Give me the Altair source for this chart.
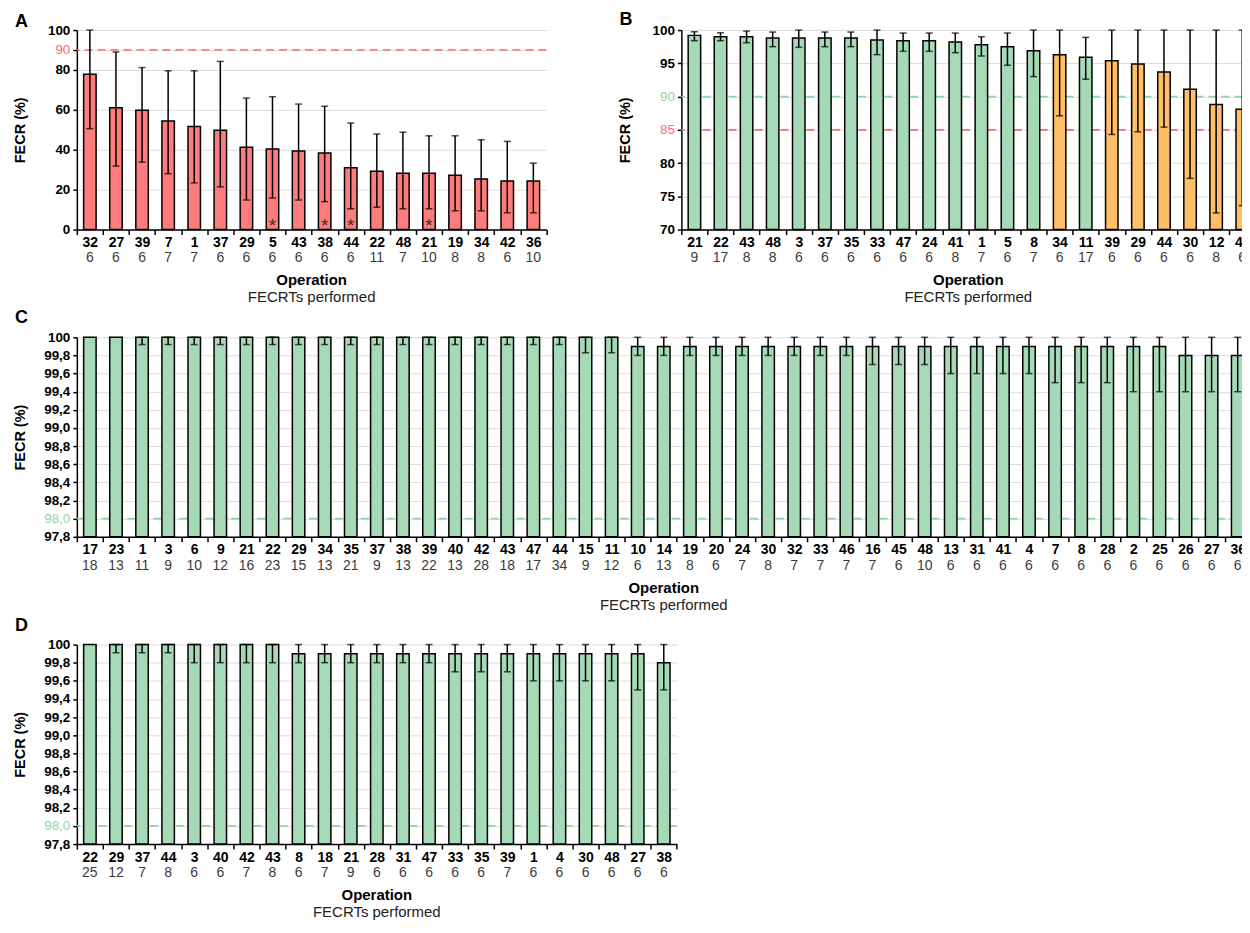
import altair as alt
import pandas as pd

FONT = "Liberation Sans"
STEP = 26.15
H = 200

RED_BAR = "#FF7C7C"
GREEN = "#A6D9B5"
ORANGE = "#FFBE68"
RED_LINE = "#FF6B6B"
GREEN_LINE = "#93D4A4"

# ---------------- Panel A ----------------
a_ops = ["32", "27", "39", "7", "1", "37", "29", "5", "43", "38", "44", "22", "48", "21", "19", "34", "42", "36"]
a_n = [6, 6, 6, 7, 7, 6, 6, 6, 6, 6, 6, 11, 7, 10, 8, 8, 6, 10]
a_mean = [77.8, 61, 59.8, 54.4, 51.6, 49.8, 41.2, 40.4, 39.4, 38.4, 31, 29.2, 28.2, 28.2, 27.2, 25.4, 24.4, 24.4]
a_lo = [50.6, 31.8, 33.8, 28, 23.4, 21.4, 14.8, 15.8, 14.8, 14, 10.4, 11.2, 10.4, 10.4, 9.4, 9.4, 8.4, 8.4]
a_hi = [100, 89, 81.2, 79.6, 79.6, 84.3, 65.9, 66.6, 62.9, 61.8, 53.4, 47.9, 48.8, 47, 47, 45, 44.2, 33.3]
a_star = ["5", "38", "44", "21"]
a_yticks = [0, 20, 40, 60, 80, 90, 100]
a_refs = [90]
a_ref_cols = [RED_LINE]

# ---------------- Panel B ----------------
b_ops = ["21", "22", "43", "48", "3", "37", "35", "33", "47", "24", "41", "1", "5", "8",
         "34", "11", "39", "29", "44", "30", "12", "42"]
b_n = [9, 17, 8, 8, 6, 6, 6, 6, 6, 6, 8, 7, 6, 7, 6, 17, 6, 6, 6, 6, 8, 6]
b_mean = [99.2, 99.0, 99.0, 98.8, 98.8, 98.8, 98.8, 98.5, 98.4, 98.4, 98.2, 97.8, 97.5, 96.9,
          96.3, 95.9, 95.4, 94.9, 93.7, 91.1, 88.8, 88.1]
b_lo = [98.4, 98.4, 98.1, 97.5, 97.4, 97.5, 97.5, 96.3, 96.8, 96.8, 96.6, 96.1, 94.7, 93.0,
        87.1, 92.6, 84.3, 84.7, 85.4, 77.7, 72.5, 73.6]
b_hi = [99.75, 99.6, 99.85, 99.7, 100, 99.7, 99.7, 100, 99.55, 99.55, 99.55, 99.0, 99.55, 100,
        100, 98.9, 100, 100, 100, 100, 100, 100]
b_status = ["ok"] * 14 + ["low", "ok"] + ["low"] * 6
b_yticks = [70, 75, 80, 85, 90, 95, 100]
b_refs = [90, 85]
b_ref_cols = [GREEN_LINE, RED_LINE]

# ---------------- Panel C ----------------
c_ops = ["17", "23", "1", "3", "6", "9", "21", "22", "29", "34", "35", "37", "38", "39", "40", "42",
         "43", "47", "44", "15", "11", "10", "14", "19", "20", "24", "30", "32", "33", "46", "16",
         "45", "48", "13", "31", "41", "4", "7", "8", "28", "2", "25", "26", "27", "36"]
c_n = [18, 13, 11, 9, 10, 12, 16, 23, 15, 13, 21, 9, 13, 22, 13, 28, 18, 17, 34, 9, 12,
       6, 13, 8, 6, 7, 8, 7, 7, 7, 7, 6, 10, 6, 6, 6, 6, 6, 6, 6, 6, 6, 6, 6, 6]
c_mean = [100] * 21 + [99.9] * 21 + [99.8] * 3
c_lo = [100, 100] + [99.92] * 17 + [99.83, 99.83] + [99.8] * 9 + [99.7] * 3 + [99.6] * 4 + \
       [99.5] * 3 + [99.4] * 2 + [99.4] * 3
c_hi = [100] * 45

# ---------------- Panel D ----------------
d_ops = ["22", "29", "37", "44", "3", "40", "42", "43", "8", "18", "21", "28", "31", "47",
         "33", "35", "39", "1", "4", "30", "48", "27", "38"]
d_n = [25, 12, 7, 8, 6, 6, 7, 8, 6, 7, 9, 6, 6, 6, 6, 6, 7, 6, 6, 6, 6, 6, 6]
d_mean = [100] * 8 + [99.9] * 14 + [99.8]
d_lo = [100, 99.91, 99.91, 99.91, 99.8, 99.8, 99.8, 99.8, 99.8, 99.8, 99.8, 99.8, 99.8, 99.8,
        99.7, 99.7, 99.7, 99.6, 99.6, 99.6, 99.6, 99.5, 99.5]
d_hi = [100] * 23

cd_yticks = [97.8, 98.0, 98.2, 98.4, 98.6, 98.8, 99.0, 99.2, 99.4, 99.6, 99.8, 100]
cd_refs = [98.0]
cd_ref_cols = [GREEN_LINE]

x_title = "Operation"
x_subtitle = "FECRTs performed"
y_title = "FECR (%)"


def cond_expr(vals, cols, default):
    e = "'" + default + "'"
    for v, c in zip(vals, cols):
        e = "datum.value == " + str(v) + " ? '" + c + "' : " + e
    return e


def panel(letter, ops, n, mean, lo, hi, colors, ydom, yvals, refs, ref_cols,
          comma=False, stars=None, letter_dy=-8):
    W = STEP * len(ops)
    df = pd.DataFrame({"op": ops, "n": n, "mean": mean, "lo": lo, "hi": hi, "col": colors,
                       "star": [(stars is not None and o in stars) for o in ops]})
    ref_df = pd.DataFrame({"v": refs, "c": ref_cols})

    x = alt.X("op:N", sort=ops,
              scale=alt.Scale(paddingInner=0, paddingOuter=0),
              axis=alt.Axis(title=None, labelAngle=0, labelFont=FONT, labelFontSize=14,
                            labelFontWeight="bold", labelColor="black", labelPadding=1,
                            tickBand="extent", ticks=True, tickSize=5, tickWidth=1.5,
                            tickColor="black", domainColor="black", domainWidth=1.5,
                            grid=False))
    ax_kw = dict(values=yvals, title=y_title, titleFont=FONT, titleFontSize=14.5,
                 titleFontWeight="bold", titleColor="black", titleAngle=270, titleX=-56,
                 titleY=H / 2, titleBaseline="middle", titleAlign="center",
                 labelFont=FONT, labelFontSize=13.5, labelOverlap=False,
                 labelColor={"expr": cond_expr(refs, ref_cols, "black")},
                 labelFontWeight={"expr": cond_expr(refs, ["normal"] * len(refs), "bold")},
                 labelPadding=3, tickSize=4, tickWidth=1.5, tickColor="black",
                 domainColor="black", domainWidth=1.5, grid=True, gridColor="#DCDCDC",
                 gridWidth=1)
    if comma:
        ax_kw["labelExpr"] = ("datum.value == 100 ? '100' : "
                              "replace(format(datum.value, '.1f'), '.', ',')")
    yscale = alt.Scale(domain=ydom, zero=False, nice=False)
    yaxis = alt.Axis(**ax_kw)

    base = alt.Chart(df)
    ref = alt.Chart(ref_df).mark_rule(strokeDash=[8, 5], strokeWidth=1.7).encode(
        y=alt.Y("v:Q", scale=yscale, axis=yaxis), color=alt.Color("c:N", scale=None))
    bars = base.mark_bar(size=12.5, stroke="black", strokeWidth=1.5).encode(
        x=x, y=alt.Y("mean:Q", scale=yscale, axis=yaxis), y2=alt.datum(ydom[0]),
        color=alt.Color("col:N", scale=None))
    eb = base.transform_filter("datum.lo < datum.hi")
    err = eb.mark_rule(strokeWidth=1.5, color="black").encode(
        x=x, y=alt.Y("lo:Q", scale=yscale, axis=yaxis), y2="hi:Q")
    cap_lo = eb.mark_tick(size=7, thickness=1.5, color="black").encode(
        x=x, y=alt.Y("lo:Q", scale=yscale, axis=yaxis))
    cap_hi = eb.mark_tick(size=7, thickness=1.5, color="black").encode(
        x=x, y=alt.Y("hi:Q", scale=yscale, axis=yaxis))
    counts = base.mark_text(font=FONT, fontSize=14, color="#3A3A3A", baseline="middle").encode(
        x=x, y=alt.value(H + 29), text="n:N")
    lab = alt.Chart(pd.DataFrame({"t": [letter]})).mark_text(
        font=FONT, fontSize=18, fontWeight="bold", align="left", baseline="middle",
        color="black").encode(x=alt.value(-62), y=alt.value(letter_dy), text="t:N")
    t1 = alt.Chart(pd.DataFrame({"t": [x_title]})).mark_text(
        font=FONT, fontSize=15, fontWeight="bold", baseline="middle", color="black").encode(
        x=alt.value(W / 2), y=alt.value(H + 51), text="t:N")
    t2 = alt.Chart(pd.DataFrame({"t": [x_subtitle]})).mark_text(
        font=FONT, fontSize=15, baseline="middle", color="#222222").encode(
        x=alt.value(W / 2), y=alt.value(H + 68), text="t:N")
    layers = [ref, bars, err, cap_lo, cap_hi, counts, lab, t1, t2]
    if stars is not None:
        st = base.transform_filter("datum.star").mark_text(
            font=FONT, fontSize=19, color="#333333", baseline="middle", dy=4).encode(
            x=x, y=alt.Y(datum=4, scale=yscale, axis=yaxis), text=alt.value("*"))
        layers.append(st)
    return alt.layer(*layers).properties(width=W, height=H)


pA = panel("A", a_ops, a_n, a_mean, a_lo, a_hi, [RED_BAR] * len(a_ops), [0, 100], a_yticks,
           a_refs, a_ref_cols, stars=a_star, letter_dy=-8)
pB = panel("B", b_ops, b_n, b_mean, b_lo, b_hi,
           [GREEN if s == "ok" else ORANGE for s in b_status], [70, 100], b_yticks,
           b_refs, b_ref_cols, letter_dy=-10)
pC = panel("C", c_ops, c_n, c_mean, c_lo, c_hi, [GREEN] * len(c_ops), [97.8, 100], cd_yticks,
           cd_refs, cd_ref_cols, comma=True, letter_dy=-19)
pD = panel("D", d_ops, d_n, d_mean, d_lo, d_hi, [GREEN] * len(d_ops), [97.8, 100], cd_yticks,
           cd_refs, cd_ref_cols, comma=True, letter_dy=-19)

top = alt.hconcat(pA, pB, spacing=70)
chart = alt.vconcat(top, pC, pD, spacing=4).configure_view(stroke=None).properties(
    padding={"left": 5, "top": 2, "right": -15, "bottom": -1}, background="white")

chart.save("out.html", embed_options={"renderer": "svg", "actions": False})
